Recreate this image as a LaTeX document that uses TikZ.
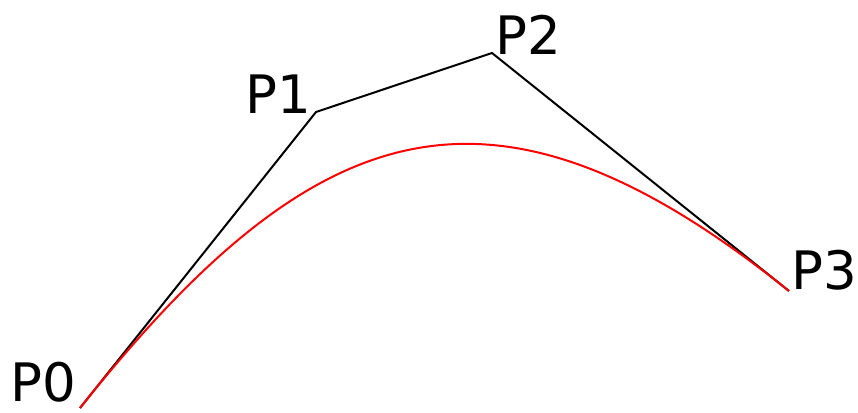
\documentclass[tikz,border=0pt]{standalone}
\usepackage{fontspec}
\setmainfont{DejaVu Sans}
\usetikzlibrary{positioning}

\begin{document}
\begin{tikzpicture}[
  x=1pt, y=-1pt,
  poly/.style={draw=black,line width=2pt},
  curve/.style={draw=red,line width=2pt},
  ptlabel/.style={inner sep=0pt,font=\fontsize{53}{58}\selectfont},
]
\useasboundingbox (0,0) rectangle (858,412);

% Control points
\coordinate (p0) at (80,408);
\coordinate (p1) at (316,112);
\coordinate (p2) at (492,53);
\coordinate (p3) at (789,291);

% Labels
\node[ptlabel, anchor=base east] (l0) at (76,401) {P0};
\node[ptlabel, anchor=base east] (l1) at (311,113) {P1};
\node[ptlabel, anchor=base west] (l2) at (495,55) {P2};
\node[ptlabel, anchor=base west] (l3) at (791,289) {P3};

% Control polygon
\draw[poly] (p0) -- (p1) -- (p2) -- (p3);

% Bezier curve
\draw[curve] (p0) .. controls (p1) and (p2) .. (p3);

\end{tikzpicture}
\end{document}
